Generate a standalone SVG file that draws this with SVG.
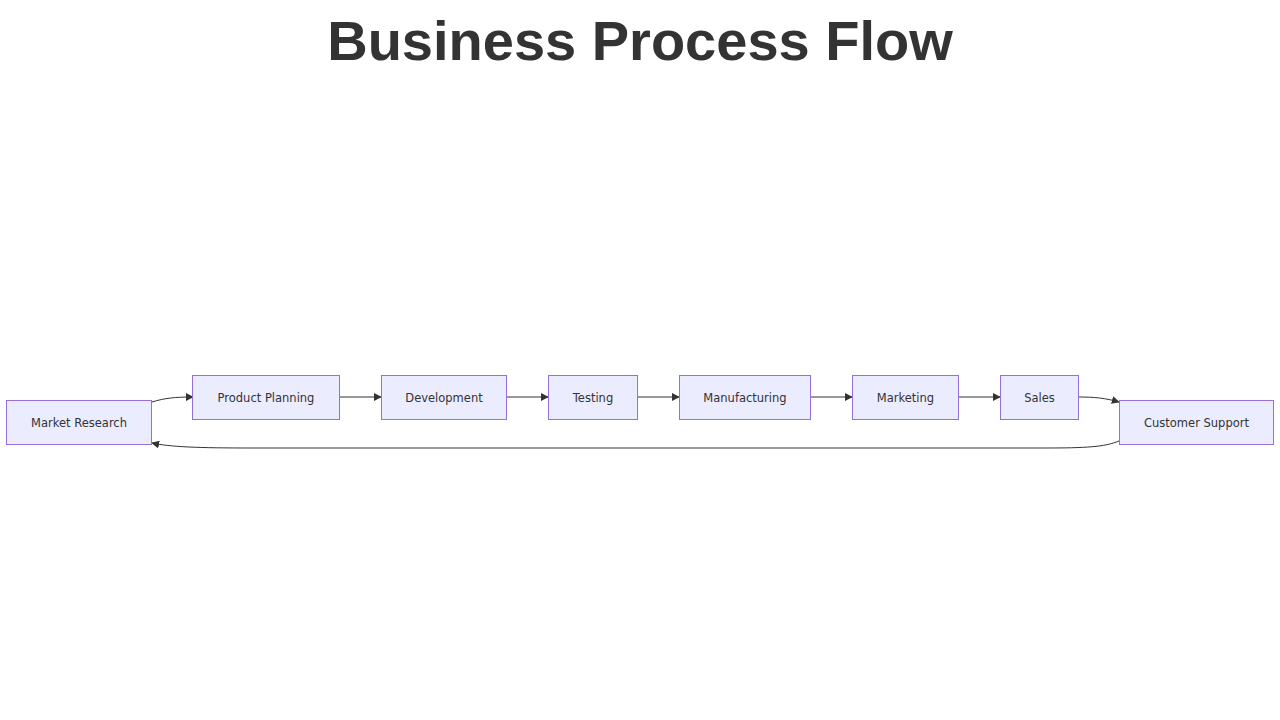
<svg xmlns="http://www.w3.org/2000/svg" width="1280" height="720" viewBox="0 0 1280 720">
<style>
.node rect{fill:#ECECFF;stroke:#9370DB;stroke-width:1}
.node text{font-family:"DejaVu Sans",Verdana,sans-serif;font-size:11.5px;fill:#333;text-anchor:middle;dominant-baseline:central}
.edge{fill:none;stroke:#333;stroke-width:1}
.title{font-family:"Liberation Sans",Arial,sans-serif;font-weight:bold;font-size:56px;fill:#333;text-anchor:middle}
</style>
<defs>
<marker id="arrow" viewBox="0 0 10 10" refX="9" refY="5" markerWidth="8" markerHeight="8" markerUnits="userSpaceOnUse" orient="auto">
<path d="M0,0 L10,5 L0,10 z" fill="#333"/>
</marker>
</defs>
<rect width="1280" height="720" fill="#fff"/>
<text class="title" x="640" y="60">Business Process Flow</text>
<g id="connectors">
<path class="edge" marker-end="url(#arrow)" d="M152,402 C165,398 175,397 193,397"/>
<path class="edge" marker-end="url(#arrow)" d="M340,397 L381,397"/>
<path class="edge" marker-end="url(#arrow)" d="M507,397 L548,397"/>
<path class="edge" marker-end="url(#arrow)" d="M638,397 L679,397"/>
<path class="edge" marker-end="url(#arrow)" d="M811,397 L852,397"/>
<path class="edge" marker-end="url(#arrow)" d="M959,397 L1000,397"/>
<path class="edge" marker-end="url(#arrow)" d="M1078,397 C1095,397 1105,398 1119,402"/>
<path class="edge" marker-end="url(#arrow)" d="M1119,441 C1105,447 1085,448 1045,448 L250,448 C200,448 170,447 152,443"/>
</g>
<g id="market-research" class="node"><rect x="6.5" y="400.5" width="145" height="44"/><text x="79" y="422.5">Market Research</text></g>
<g id="product-planning" class="node"><rect x="192.5" y="375.5" width="147" height="44"/><text x="266" y="397.5">Product Planning</text></g>
<g id="development" class="node"><rect x="381.5" y="375.5" width="125" height="44"/><text x="444" y="397.5">Development</text></g>
<g id="testing" class="node"><rect x="548.5" y="375.5" width="89" height="44"/><text x="593" y="397.5">Testing</text></g>
<g id="manufacturing" class="node"><rect x="679.5" y="375.5" width="131" height="44"/><text x="745" y="397.5">Manufacturing</text></g>
<g id="marketing" class="node"><rect x="852.5" y="375.5" width="106" height="44"/><text x="905.5" y="397.5">Marketing</text></g>
<g id="sales" class="node"><rect x="1000.5" y="375.5" width="78" height="44"/><text x="1039.5" y="397.5">Sales</text></g>
<g id="customer-support" class="node"><rect x="1119.5" y="400.5" width="154" height="44"/><text x="1196.5" y="422.5">Customer Support</text></g>
</svg>
